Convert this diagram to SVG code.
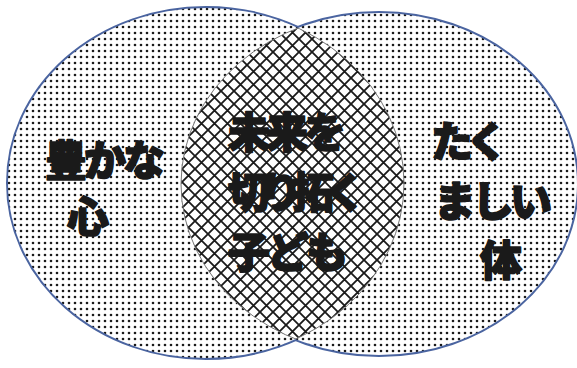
<svg xmlns="http://www.w3.org/2000/svg" width="577" height="368" viewBox="0 0 577 368">
<style>
.lbl{font-family:"Noto Sans CJK JP","Noto Sans",sans-serif;font-weight:900;font-size:42px;fill:#1a1a1a;stroke:#1a1a1a;stroke-width:1.6;stroke-linejoin:round}
.outer{fill:none;stroke:#4a64a0;stroke-width:4}
.inner{fill:none;stroke:#777;stroke-width:1}
</style>
<defs>
<pattern id="dots" width="6" height="6" patternUnits="userSpaceOnUse">
<rect width="6" height="6" fill="#fff"/>
<circle cx="3" cy="3" r="1.3" fill="#1a1a1a"/>
</pattern>
<pattern id="hatch" width="13" height="13" patternUnits="userSpaceOnUse">
<rect width="13" height="13" fill="#fff"/>
<path d="M0,0 L13,13 M13,0 L0,13" stroke="#1a1a1a" stroke-width="1.8"/>
</pattern>
<clipPath id="clipL"><ellipse cx="206" cy="183" rx="198" ry="175"/></clipPath>
<clipPath id="clipR"><ellipse cx="379" cy="184" rx="198" ry="171"/></clipPath>
</defs>
<rect width="577" height="368" fill="#fff"/>
<g id="outlines">
<ellipse class="outer" cx="206" cy="183" rx="198" ry="175"/>
<ellipse class="outer" cx="379" cy="184" rx="198" ry="171"/>
</g>
<g id="left">
<ellipse cx="206" cy="183" rx="198" ry="175" fill="url(#dots)"/>
</g>
<g id="right">
<ellipse cx="379" cy="184" rx="198" ry="171" fill="url(#dots)"/>
</g>
<g id="center">
<ellipse cx="379" cy="184" rx="198" ry="171" fill="url(#hatch)" clip-path="url(#clipL)"/>
<ellipse class="inner" cx="379" cy="184" rx="198" ry="171" clip-path="url(#clipL)"/>
<ellipse class="inner" cx="206" cy="183" rx="198" ry="175" clip-path="url(#clipR)"/>
</g>
<g id="left-label">
<text class="lbl" x="45" y="176" letter-spacing="-3">豊かな</text>
<text class="lbl" x="67" y="232">心</text>
</g>
<g id="center-label">
<text class="lbl" x="228" y="148" letter-spacing="-4">未来を</text>
<text class="lbl" x="228" y="208" letter-spacing="-10">切り拓く</text>
<text class="lbl" x="228" y="268" letter-spacing="-3">子ども</text>
</g>
<g id="right-label">
<text class="lbl" x="431" y="157" letter-spacing="-7">たく</text>
<text class="lbl" x="434" y="217" letter-spacing="-4">ましい</text>
<text class="lbl" x="480" y="276">体</text>
</g>
</svg>
